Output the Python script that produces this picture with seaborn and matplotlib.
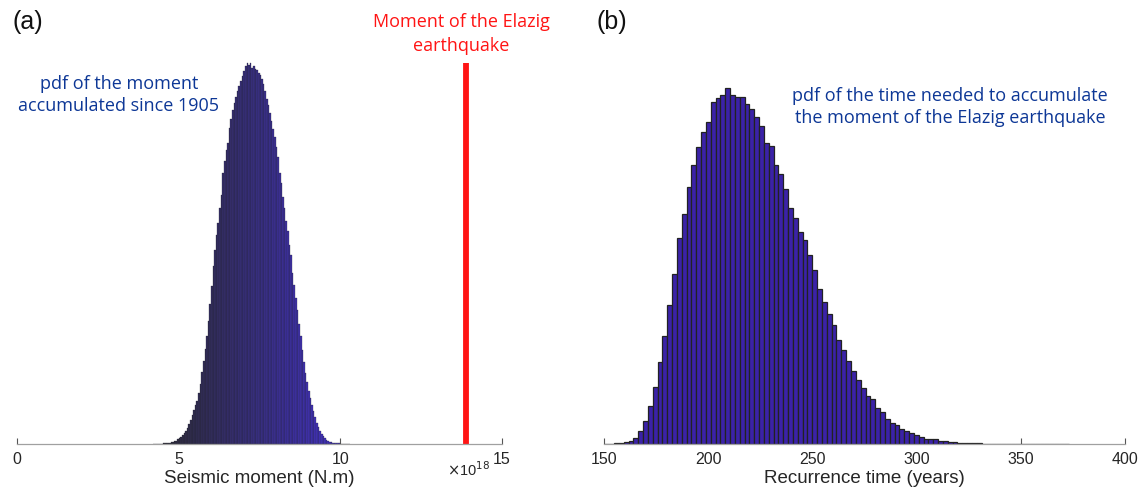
import numpy as np
import pandas as pd
import seaborn as sns
import matplotlib.pyplot as plt
import matplotlib.colors as mcolors
from matplotlib.ticker import FuncFormatter

# --- data ---
# (a) histogram of the moment accumulated since 1905 (relative counts)
moment_bin_start = 4.2e18
moment_bin_width = 0.05e18
moment_counts = [
    1, 1, 1, 1, 1, 1, 2, 2, 2, 2,
    3, 4, 5, 7, 9, 12, 15, 19, 24, 29,
    35, 42, 52, 63, 76, 89, 101, 114, 134, 158,
    188, 218, 250, 284, 322, 368, 414, 466, 508, 548,
    580, 618, 652, 712, 742, 770, 790, 828, 852, 876,
    894, 910, 926, 940, 952, 966, 978, 992, 1000, 994,
    1000, 986, 992, 984, 980, 974, 968, 958, 944, 926,
    906, 888, 868, 848, 826, 806, 778, 752, 712, 684,
    648, 618, 586, 560, 522, 496, 448, 416, 382, 352,
    316, 282, 246, 214, 186, 162, 140, 120, 102, 86,
    70, 56, 44, 34, 26, 20, 15, 11, 8, 6,
    4, 3, 3, 2, 2, 2, 1, 1, 1, 1,
    1, 1,
]
elazig_moment = 1.39e19
moment_ticks = [0, 5e18, 10e18, 15e18]

# (b) histogram of the recurrence time (relative counts)
time_bin_start = 150.2
time_bin_width = 2.32
time_counts = [
    3, 3, 7, 10, 17, 33, 60, 133, 233, 383,
    573, 823, 1083, 1393, 1703, 2057, 2300, 2573, 2793, 2970,
    3123, 3220, 3423, 3460, 3487, 3560, 3493, 3470, 3470, 3400,
    3353, 3270, 3177, 3010, 2977, 2790, 2703, 2547, 2360, 2260,
    2123, 2043, 1887, 1740, 1547, 1417, 1300, 1187, 1037, 937,
    827, 730, 637, 560, 477, 450, 360, 320, 250, 207,
    187, 153, 133, 107, 90, 67, 50, 50, 47, 30,
    30, 20, 17, 10, 10, 10, 7, 7, 3, 3,
    3, 2, 2, 2, 1, 1, 1, 1, 1, 1,
    1, 1, 1, 1, 1, 1,
]
time_ticks = [150, 200, 250, 300, 350, 400]


def hist_frame(start, width, counts):
    centers = start + width * (np.arange(len(counts)) + 0.5)
    return pd.DataFrame({"x": centers, "w": counts})


sns.set_theme(style="white")
plt.rcParams['font.family'] = ['Liberation Sans', 'DejaVu Sans']

W, H = 1143, 495
fig = plt.figure(figsize=(W / 100, H / 100), dpi=100)
ax1 = fig.add_axes([17 / W, 1 - 444 / H, 485 / W, 382 / H])
ax2 = fig.add_axes([604 / W, 1 - 444 / H, 521 / W, 382 / H])

# (a)
df_m = hist_frame(moment_bin_start, moment_bin_width, moment_counts)
sns.histplot(data=df_m, x="x", weights="w", binwidth=moment_bin_width,
             binrange=(moment_bin_start, moment_bin_start + moment_bin_width * len(moment_counts)),
             ax=ax1, color="#3a24a8", edgecolor="#22222e", linewidth=0.2, alpha=1)
# dark-to-blue shading across the thin bars, as in the original
dark = np.array(mcolors.to_rgb("#2b2b2d"))
blue = np.array(mcolors.to_rgb("#4834dc"))
n = len(ax1.patches)
for i, p in enumerate(ax1.patches):
    t = i / (n - 1)
    p.set_facecolor(dark * (1 - t) + blue * t)
ax1.vlines(elazig_moment, 0, max(moment_counts), color="#ff1414", lw=4.2)
ax1.set_xlim(0, 1.5e19)
ax1.set_ylim(0, max(moment_counts) * 1.002)
ax1.set_xticks(moment_ticks)
ax1.xaxis.set_major_formatter(FuncFormatter(lambda v, p: f"{v / 1e18:g}"))
ax1.text(0.975, -0.068, r"$\times$10$^{18}$", transform=ax1.transAxes,
         ha="right", va="center", fontsize=10.5, color="#262626")
ax1.set_xlabel("Seismic moment (N.m)", fontsize=13.5, color="#262626", labelpad=2)

# (b)
df_t = hist_frame(time_bin_start, time_bin_width, time_counts)
sns.histplot(data=df_t, x="x", weights="w", binwidth=time_bin_width,
             binrange=(time_bin_start, time_bin_start + time_bin_width * len(time_counts)),
             ax=ax2, color="#3b22a8", edgecolor="#222222", linewidth=0.9, alpha=1)
ax2.set_xlim(150, 400)
ax2.set_ylim(0, max(time_counts) * 382 / 356)
ax2.set_xticks(time_ticks)
ax2.set_xlabel("Recurrence time (years)", fontsize=13.5, color="#262626", labelpad=2)

for ax in (ax1, ax2):
    ax.set_ylabel("")
    ax.set_yticks([])
    sns.despine(ax=ax, left=True)
    ax.spines["bottom"].set_color("#a0a0a0")
    ax.spines["bottom"].set_linewidth(0.9)
    ax.tick_params(axis="x", direction="in", length=4, width=0.8, color="#555555",
                   labelsize=11.5, labelcolor="#262626", pad=6, bottom=True)
    ax.patch.set_alpha(0)

# annotations
blue_txt = "#0d3796"
ann = ['Open Sans', 'DejaVu Sans']
fig.text(12 / W, 1 - 22 / H, "(a)", fontsize=18, ha="left", va="center", color="#111111")
fig.text(597 / W, 1 - 22 / H, "(b)", fontsize=18, ha="left", va="center", color="#111111")
fig.text(119 / W, 1 - 95 / H, "pdf of the moment\naccumulated since 1905",
         fontsize=13, ha="center", va="center", color=blue_txt, family=ann,
         linespacing=1.3)
fig.text(461 / W, 1 - 34 / H, "Moment of the Elazig\nearthquake",
         fontsize=13, ha="center", va="center", color="#ff1414", family=ann,
         linespacing=1.45)
fig.text(950 / W, 1 - 107 / H, "pdf of the time needed to accumulate\nthe moment of the Elazig earthquake",
         fontsize=13, ha="center", va="center", color=blue_txt, family=ann,
         linespacing=1.3)

fig.savefig("out.png", dpi=100)
